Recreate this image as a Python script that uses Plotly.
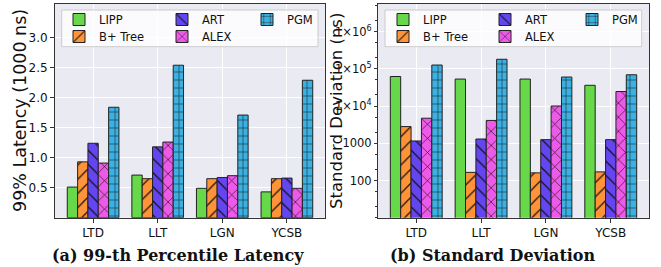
import plotly.graph_objects as go

W, H = 661, 267

categories = ["LTD", "LLT", "LGN", "YCSB"]
series_names = ["LIPP", "B+ Tree", "ART", "ALEX", "PGM"]

lat_lipp = [0.51, 0.71, 0.49, 0.43]
lat_bptree = [0.93, 0.65, 0.65, 0.65]
lat_art = [1.24, 1.18, 0.67, 0.66]
lat_alex = [0.91, 1.26, 0.70, 0.49]
lat_pgm = [1.84, 2.54, 1.71, 2.29]

std_lipp = [62000, 53000, 53000, 36000]
std_bptree = [2800, 165, 160, 170]
std_art = [1150, 1300, 1250, 1250]
std_alex = [4700, 4100, 10000, 24500]
std_pgm = [126000, 180000, 60000, 69000]

lat_ticks = [0.5, 1.0, 1.5, 2.0, 2.5, 3.0]
std_ticks = [1e2, 1e3, 1e4, 1e5, 1e6]

colors = ["#66d84a", "#ff9338", "#6446f0", "#ee5ae8", "#3cb0e0"]
patterns = ["", "/", "\\", "x", "+"]
pat_sizes = [8, 10, 10, 10, 8]

lat_data = [lat_lipp, lat_bptree, lat_art, lat_alex, lat_pgm]
std_data = [std_lipp, std_bptree, std_art, std_alex, std_pgm]


def px(x):
    return x / W


def py(y):
    return (H - y) / H


fig = go.Figure()

# legend positions (pixel coords of entry left, row centre)
leg_pos_left = [(59, 19.5), (59, 36.5), (162, 19.5), (162, 36.5), (247, 19.5)]
leg_pos_right = [(383, 19.5), (383, 36.5), (485, 19.5), (485, 36.5), (572, 19.5)]

legend_layouts = {}
for panel, (data, xa, ya, positions, off) in enumerate([
    (lat_data, "x", "y", leg_pos_left, 0),
    (std_data, "x2", "y2", leg_pos_right, 5),
]):
    for i, name in enumerate(series_names):
        lg_idx = off + i + 1
        lg_key = "legend" if lg_idx == 1 else f"legend{lg_idx}"
        marker = dict(color=colors[i], line=dict(color="#222222", width=1))
        if patterns[i]:
            marker["pattern"] = dict(shape=patterns[i], fgcolor="#111111", bgcolor=colors[i],
                                     size=pat_sizes[i], solidity=0.12, fillmode="replace")
        fig.add_trace(go.Bar(
            x=categories, y=data[i], name=name, marker=marker,
            xaxis=xa, yaxis=ya, legend=lg_key, showlegend=True,
        ))
        lx, lyy = positions[i]
        legend_layouts[lg_key] = dict(
            x=px(lx), y=py(lyy), xanchor="left", yanchor="middle",
            bgcolor="rgba(0,0,0,0)", borderwidth=0,
            font=dict(family="DejaVu Sans", size=11.5, color="#111111"),
            itemwidth=30,
        )

axis_common = dict(
    showline=True, mirror=True, linecolor="#333333", linewidth=1,
    gridcolor="white", gridwidth=1, showgrid=True, zeroline=False,
    ticks="outside", tickcolor="#333333", automargin=False,
)
font12 = dict(family="DejaVu Sans", size=12, color="#111111")
font_small = dict(family="DejaVu Sans", size=11.5, color="#111111")

x_range = [-0.59, 3.59]
y_top, y_bot = 4, 217.7

fig.update_layout(
    width=W, height=H,
    margin=dict(l=0, r=0, t=0, b=0, autoexpand=False),
    paper_bgcolor="white",
    plot_bgcolor="#eaeaf2",
    barmode="group", bargap=0.2, bargroupgap=0,
    xaxis=dict(domain=[px(55), px(325)], anchor="y", range=x_range,
               tickfont=font12, ticklen=4, **axis_common),
    yaxis=dict(domain=[py(y_bot), py(y_top)], anchor="x", range=[0, 3.56],
               tickvals=lat_ticks, tickformat=".1f", tickfont=font12, ticklen=4,
               **axis_common),
    xaxis2=dict(domain=[px(378), px(649)], anchor="y2", range=x_range,
                tickfont=font12, ticklen=4, **axis_common),
    yaxis2=dict(domain=[py(y_bot), py(y_top)], anchor="x2", type="log", range=[1, 6.74],
                tickvals=std_ticks, exponentformat="power", tickfont=font_small, ticklen=3,
                minor=dict(ticks="outside", ticklen=2, tickcolor="#333333", showgrid=False),
                **axis_common),
    **legend_layouts,
)

# legend boxes
for (x0, x1) in [(61.7, 318), (385, 641.7)]:
    fig.add_shape(type="rect", xref="paper", yref="paper",
                  x0=px(x0), x1=px(x1), y0=py(46.7), y1=py(10),
                  fillcolor="rgba(255,255,255,0.8)", line=dict(color="#cccccc", width=1),
                  layer="above")

ann_common = dict(xref="paper", yref="paper", showarrow=False,
                  xanchor="center", yanchor="middle")

# y axis titles
fig.add_annotation(text="99% Latency (1000 ns)", x=px(20), y=py(111), textangle=-90,
                   font=dict(family="DejaVu Sans", size=17.5, color="#111111"), **ann_common)
fig.add_annotation(text="Standard Deviation (ns)", x=px(336), y=py(111), textangle=-90,
                   font=dict(family="DejaVu Sans", size=16.5, color="#111111"), **ann_common)

# captions
fig.add_annotation(text="<b>(a) 99-th Percentile Latency</b>", x=px(177.5), y=py(255),
                   font=dict(family="DejaVu Serif", size=16, color="#111111"), **ann_common)
fig.add_annotation(text="<b>(b) Standard Deviation</b>", x=px(493), y=py(255),
                   font=dict(family="DejaVu Serif", size=16, color="#111111"), **ann_common)

fig.write_html("out.html", config={"displayModeBar": False},
               post_script="document.body.style.margin='0';")
